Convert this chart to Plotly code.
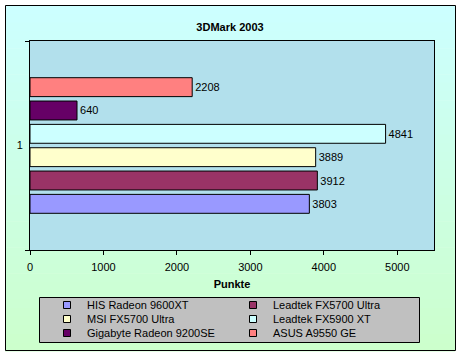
import plotly.graph_objects as go

# ---- data ----
category = ["1"]
series_names = ["HIS Radeon 9600XT", "Leadtek FX5700 Ultra", "MSI FX5700 Ultra",
                "Leadtek FX5900 XT", "Gigabyte Radeon 9200SE", "ASUS A9550 GE"]
series_values = [3803, 3912, 3889, 4841, 640, 2208]
series_colors = ["#9999FF", "#993366", "#FFFFCC", "#CCFFFF", "#660066", "#FF8080"]
x_ticks = [0, 1000, 2000, 3000, 4000, 5000]
title_text = "3DMark 2003"
x_title = "Punkte"

# ---- layout geometry (pixels) ----
W, H = 462, 357
PL, PR, PT, PB = 30, 434, 41, 250
FONT = "Liberation Sans, Arial, sans-serif"


def fx(px):
    return (px - PL) / (PR - PL)


def fy(py):
    return (PB - py) / (PB - PT)


fig = go.Figure()

for name, val, col in zip(series_names, series_values, series_colors):
    fig.add_trace(go.Bar(
        y=category, x=[val], name=name, orientation="h",
        marker=dict(color=col, line=dict(color="black", width=1)),
        texttemplate="%{x}", textposition="outside",
        textfont=dict(family=FONT, size=11, color="black"),
        constraintext="none", cliponaxis=False, showlegend=False,
    ))

# legend entries (three rows, two columns)
legend_ids = ["legend", "legend2", "legend3"]
for i, (name, col) in enumerate(zip(series_names, series_colors)):
    fig.add_trace(go.Scatter(
        x=[None], y=[None], mode="markers", name=name,
        marker=dict(symbol="square", size=7, color=col, line=dict(color="black", width=1)),
        legend=legend_ids[i // 2], showlegend=True,
    ))

shapes = []
# background gradient (cyan -> light green)
y0, y1 = 5, 351
n = 40
for k in range(n):
    t = k / (n - 1)
    b = int(round(255 - (255 - 204) * t))
    ya = y0 + (y1 - y0) * k / n
    yb = y0 + (y1 - y0) * (k + 1) / n + 0.6
    shapes.append(dict(type="rect", xref="paper", yref="paper",
                       x0=fx(5), x1=fx(455), y0=fy(ya), y1=fy(yb),
                       line=dict(width=0), fillcolor=f"rgb(204,255,{b})", layer="below"))
# outer border
shapes.append(dict(type="rect", xref="paper", yref="paper",
                   x0=fx(5.5), x1=fx(455.5), y0=fy(5.5), y1=fy(350.5),
                   line=dict(color="black", width=1), fillcolor="rgba(0,0,0,0)", layer="below"))
# plot area fill
shapes.append(dict(type="rect", xref="paper", yref="paper",
                   x0=0, x1=1, y0=0, y1=1,
                   line=dict(width=0), fillcolor="#B2E0EC", layer="below"))
# legend box
shapes.append(dict(type="rect", xref="paper", yref="paper",
                   x0=fx(39.5), x1=fx(419.5), y0=fy(297.5), y1=fy(342.5),
                   line=dict(color="black", width=1), fillcolor="#C0C0C0", layer="below"))

row_y = [305, 319, 333]
legend_layouts = {}
for lid, ry in zip(legend_ids, row_y):
    legend_layouts[lid] = dict(
        orientation="h", x=fx(47), xanchor="left", y=fy(ry), yanchor="middle",
        bgcolor="rgba(0,0,0,0)", borderwidth=0,
        font=dict(family=FONT, size=11, color="black"),
        entrywidth=141, entrywidthmode="pixels", itemclick=False,
    )

fig.update_layout(
    width=W, height=H,
    margin=dict(l=PL, r=W - PR, t=PT, b=H - PB, autoexpand=False),
    paper_bgcolor="white", plot_bgcolor="rgba(0,0,0,0)",
    barmode="group", bargap=0.33, bargroupgap=0.19,
    font=dict(family=FONT, size=11, color="black"),
    title=dict(text=title_text, x=230 / W, xanchor="center", y=1 - 27 / H, yanchor="middle",
               yref="container", font=dict(family=FONT, size=11, color="black", weight="bold")),
    xaxis=dict(range=[0, 5500], tickvals=x_ticks, ticks="outside", ticklen=4,
               tickcolor="black", showline=True, linecolor="black", linewidth=1, mirror=True,
               showgrid=False, zeroline=False, tickfont=dict(size=11),
               ticklabelstandoff=3, automargin=False,
               title=dict(text=x_title, standoff=8, font=dict(size=11, weight="bold"))),
    yaxis=dict(type="category", range=[-0.5, 0.5], tickson="boundaries", ticks="outside",
               ticklen=4, tickcolor="black", showline=True, linecolor="black", linewidth=1,
               mirror=True, showgrid=False, zeroline=False, tickfont=dict(size=11),
               ticklabelstandoff=4, automargin=False),
    shapes=shapes,
    **legend_layouts,
)

fig.write_html("out.html", config={"displayModeBar": False},
               post_script="document.body.style.margin='0px';")
